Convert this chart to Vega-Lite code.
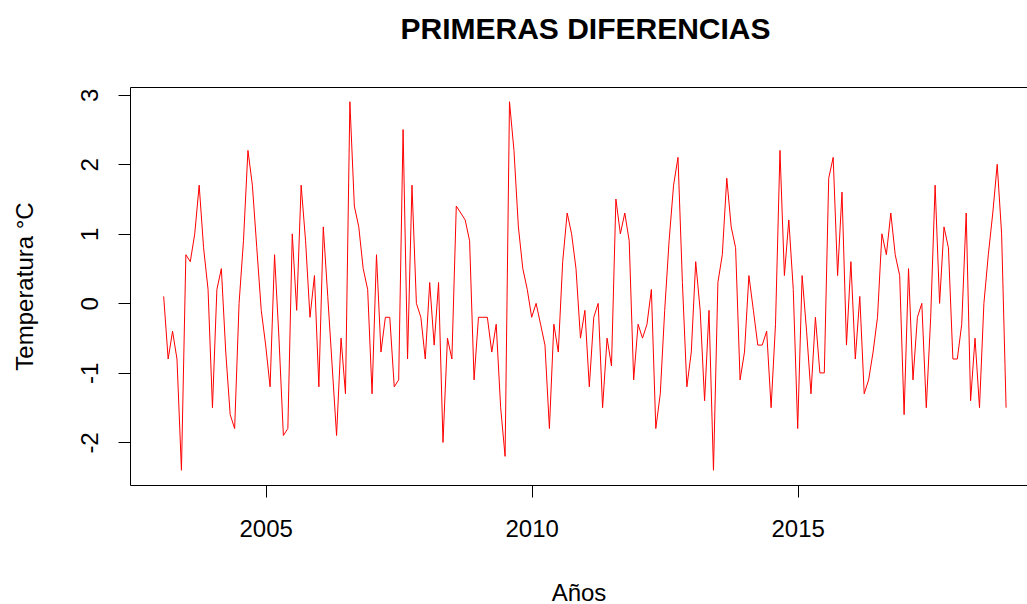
{
"$schema": "https://vega.github.io/schema/vega-lite/v6.json",
"width": 897, "height": 398,
"autosize": {"type": "none"},
"padding": {"left": 130, "top": 87, "right": 0, "bottom": 119},
"background": "white",
"config": {"view": {"stroke": "black", "strokeWidth": 1}, "font": "Liberation Sans"},
"title": {"text": "PRIMERAS DIFERENCIAS", "fontSize": 30, "fontWeight": "bold", "font": "Liberation Sans", "color": "black", "anchor": "middle", "frame": "group", "offset": 18, "baseline": "alphabetic", "dx": 7},
"data": {"values": [
{"t":2003.083,"v":0.1},{"t":2003.167,"v":-0.8},{"t":2003.25,"v":-0.4},{"t":2003.333,"v":-0.8},{"t":2003.417,"v":-2.4},{"t":2003.5,"v":0.7},{"t":2003.583,"v":0.6},{"t":2003.667,"v":1.0},{"t":2003.75,"v":1.7},{"t":2003.833,"v":0.8},{"t":2003.917,"v":0.2},
{"t":2004.0,"v":-1.5},{"t":2004.083,"v":0.2},{"t":2004.167,"v":0.5},{"t":2004.25,"v":-0.7},{"t":2004.333,"v":-1.6},{"t":2004.417,"v":-1.8},{"t":2004.5,"v":0.0},{"t":2004.583,"v":0.9},{"t":2004.667,"v":2.2},{"t":2004.75,"v":1.7},{"t":2004.833,"v":0.8},{"t":2004.917,"v":-0.1},
{"t":2005.0,"v":-0.6},{"t":2005.083,"v":-1.2},{"t":2005.167,"v":0.7},{"t":2005.25,"v":-0.5},{"t":2005.333,"v":-1.9},{"t":2005.417,"v":-1.8},{"t":2005.5,"v":1.0},{"t":2005.583,"v":-0.1},{"t":2005.667,"v":1.7},{"t":2005.75,"v":0.9},{"t":2005.833,"v":-0.2},{"t":2005.917,"v":0.4},
{"t":2006.0,"v":-1.2},{"t":2006.083,"v":1.1},{"t":2006.167,"v":0.1},{"t":2006.25,"v":-0.9},{"t":2006.333,"v":-1.9},{"t":2006.417,"v":-0.5},{"t":2006.5,"v":-1.3},{"t":2006.583,"v":2.9},{"t":2006.667,"v":1.4},{"t":2006.75,"v":1.1},{"t":2006.833,"v":0.5},{"t":2006.917,"v":0.2},
{"t":2007.0,"v":-1.3},{"t":2007.083,"v":0.7},{"t":2007.167,"v":-0.7},{"t":2007.25,"v":-0.2},{"t":2007.333,"v":-0.2},{"t":2007.417,"v":-1.2},{"t":2007.5,"v":-1.1},{"t":2007.583,"v":2.5},{"t":2007.667,"v":-0.8},{"t":2007.75,"v":1.7},{"t":2007.833,"v":0.0},{"t":2007.917,"v":-0.2},
{"t":2008.0,"v":-0.8},{"t":2008.083,"v":0.3},{"t":2008.167,"v":-0.6},{"t":2008.25,"v":0.3},{"t":2008.333,"v":-2.0},{"t":2008.417,"v":-0.5},{"t":2008.5,"v":-0.8},{"t":2008.583,"v":1.4},{"t":2008.667,"v":1.3},{"t":2008.75,"v":1.2},{"t":2008.833,"v":0.9},{"t":2008.917,"v":-1.1},
{"t":2009.0,"v":-0.2},{"t":2009.083,"v":-0.2},{"t":2009.167,"v":-0.2},{"t":2009.25,"v":-0.7},{"t":2009.333,"v":-0.3},{"t":2009.417,"v":-1.5},{"t":2009.5,"v":-2.2},{"t":2009.583,"v":2.9},{"t":2009.667,"v":2.2},{"t":2009.75,"v":1.1},{"t":2009.833,"v":0.5},{"t":2009.917,"v":0.2},
{"t":2010.0,"v":-0.2},{"t":2010.083,"v":0.0},{"t":2010.167,"v":-0.3},{"t":2010.25,"v":-0.6},{"t":2010.333,"v":-1.8},{"t":2010.417,"v":-0.3},{"t":2010.5,"v":-0.7},{"t":2010.583,"v":0.6},{"t":2010.667,"v":1.3},{"t":2010.75,"v":1.0},{"t":2010.833,"v":0.5},{"t":2010.917,"v":-0.5},
{"t":2011.0,"v":-0.1},{"t":2011.083,"v":-1.2},{"t":2011.167,"v":-0.2},{"t":2011.25,"v":0.0},{"t":2011.333,"v":-1.5},{"t":2011.417,"v":-0.5},{"t":2011.5,"v":-0.9},{"t":2011.583,"v":1.5},{"t":2011.667,"v":1.0},{"t":2011.75,"v":1.3},{"t":2011.833,"v":0.9},{"t":2011.917,"v":-1.1},
{"t":2012.0,"v":-0.3},{"t":2012.083,"v":-0.5},{"t":2012.167,"v":-0.3},{"t":2012.25,"v":0.2},{"t":2012.333,"v":-1.8},{"t":2012.417,"v":-1.3},{"t":2012.5,"v":-0.1},{"t":2012.583,"v":0.9},{"t":2012.667,"v":1.7},{"t":2012.75,"v":2.1},{"t":2012.833,"v":0.3},{"t":2012.917,"v":-1.2},
{"t":2013.0,"v":-0.7},{"t":2013.083,"v":0.6},{"t":2013.167,"v":-0.1},{"t":2013.25,"v":-1.4},{"t":2013.333,"v":-0.1},{"t":2013.417,"v":-2.4},{"t":2013.5,"v":0.3},{"t":2013.583,"v":0.7},{"t":2013.667,"v":1.8},{"t":2013.75,"v":1.1},{"t":2013.833,"v":0.8},{"t":2013.917,"v":-1.1},
{"t":2014.0,"v":-0.7},{"t":2014.083,"v":0.4},{"t":2014.167,"v":-0.1},{"t":2014.25,"v":-0.6},{"t":2014.333,"v":-0.6},{"t":2014.417,"v":-0.4},{"t":2014.5,"v":-1.5},{"t":2014.583,"v":-0.3},{"t":2014.667,"v":2.2},{"t":2014.75,"v":0.4},{"t":2014.833,"v":1.2},{"t":2014.917,"v":0.2},
{"t":2015.0,"v":-1.8},{"t":2015.083,"v":0.4},{"t":2015.167,"v":-0.4},{"t":2015.25,"v":-1.3},{"t":2015.333,"v":-0.2},{"t":2015.417,"v":-1.0},{"t":2015.5,"v":-1.0},{"t":2015.583,"v":1.8},{"t":2015.667,"v":2.1},{"t":2015.75,"v":0.4},{"t":2015.833,"v":1.6},{"t":2015.917,"v":-0.6},
{"t":2016.0,"v":0.6},{"t":2016.083,"v":-0.8},{"t":2016.167,"v":0.1},{"t":2016.25,"v":-1.3},{"t":2016.333,"v":-1.1},{"t":2016.417,"v":-0.7},{"t":2016.5,"v":-0.2},{"t":2016.583,"v":1.0},{"t":2016.667,"v":0.7},{"t":2016.75,"v":1.3},{"t":2016.833,"v":0.7},{"t":2016.917,"v":0.4},
{"t":2017.0,"v":-1.6},{"t":2017.083,"v":0.5},{"t":2017.167,"v":-1.1},{"t":2017.25,"v":-0.2},{"t":2017.333,"v":0.0},{"t":2017.417,"v":-1.5},{"t":2017.5,"v":-0.2},{"t":2017.583,"v":1.7},{"t":2017.667,"v":0.0},{"t":2017.75,"v":1.1},{"t":2017.833,"v":0.8},{"t":2017.917,"v":-0.8},
{"t":2018.0,"v":-0.8},{"t":2018.083,"v":-0.3},{"t":2018.167,"v":1.3},{"t":2018.25,"v":-1.4},{"t":2018.333,"v":-0.5},{"t":2018.417,"v":-1.5},{"t":2018.5,"v":0.0},{"t":2018.583,"v":0.7},{"t":2018.667,"v":1.3},{"t":2018.75,"v":2.0},{"t":2018.833,"v":1.0},{"t":2018.917,"v":-1.5}
]},
"mark": {"type": "line", "color": "#FF0000", "strokeWidth": 1},
"encoding": {
"x": {"field": "t", "type": "quantitative",
 "scale": {"domain": [2002.45, 2019.31], "nice": false, "zero": false},
 "axis": {"values": [2005, 2010, 2015], "labelExpr": "'' + datum.value", "title": "Años", "domain": false, "grid": false, "tickColor": "black", "tickSize": 12, "labelFontSize": 24, "labelColor": "black", "labelPadding": 20, "labelFont": "Liberation Sans", "titleFont": "Liberation Sans", "titleFontSize": 24, "titleFontWeight": "normal", "titleColor": "black", "titlePadding": 40}},
"y": {"field": "v", "type": "quantitative",
 "scale": {"domain": [-2.612, 3.112], "nice": false, "zero": false},
 "axis": {"values": [-2, -1, 0, 1, 2, 3], "labelExpr": "'' + datum.value", "title": "Temperatura °C", "domain": false, "grid": false, "tickColor": "black", "tickSize": 12, "labelAngle": 270, "labelAlign": "center", "labelBaseline": "bottom", "labelFontSize": 24, "labelColor": "black", "labelPadding": 16, "labelFont": "Liberation Sans", "titleFont": "Liberation Sans", "titleFontSize": 24, "titleFontWeight": "normal", "titleColor": "black", "titlePadding": 41}}
}
}
